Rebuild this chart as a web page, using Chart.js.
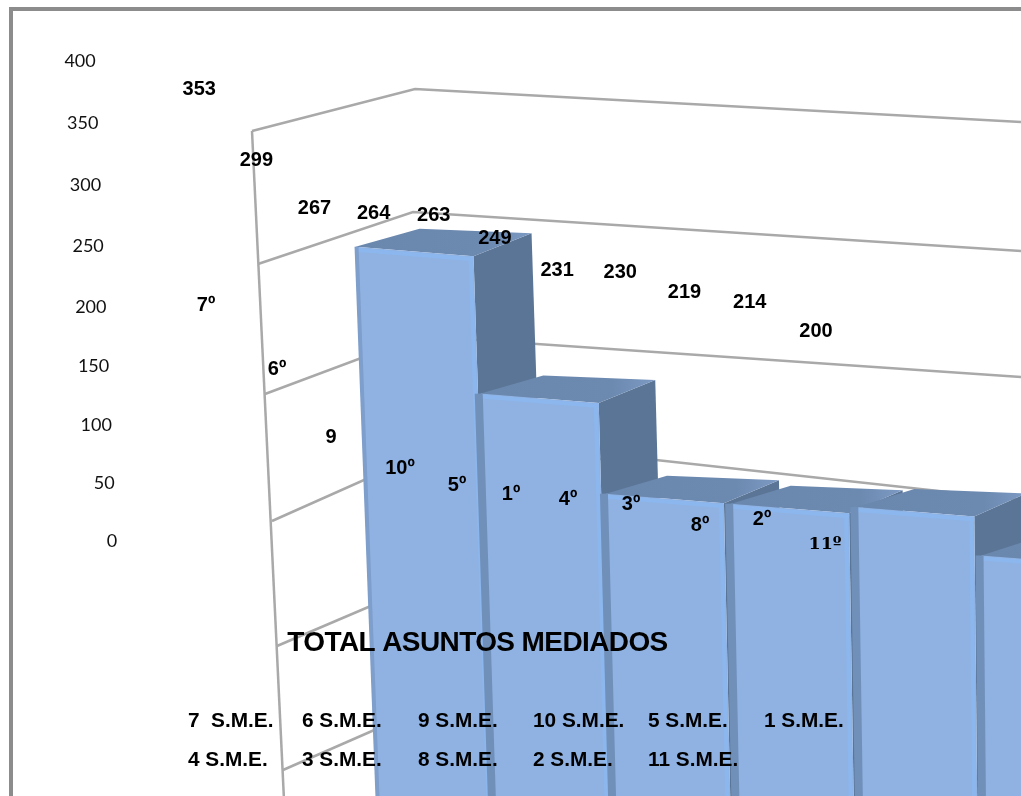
<!DOCTYPE html>
<html lang="es">
<head>
<meta charset="utf-8">
<title>Total asuntos mediados</title>
<script src="https://cdn.jsdelivr.net/npm/chart.js@4/dist/chart.umd.js"></script>
<style>
  html, body { margin: 0; padding: 0; background: #fff; overflow: hidden; }
  canvas { display: block; }
</style>
</head>
<body>
<canvas id="chart" width="1021" height="796"></canvas>
<script>
/* Total asuntos mediados por S.M.E. - barras 3D con perspectiva */
const categories = ["7  S.M.E.", "6 S.M.E.", "9 S.M.E.", "10 S.M.E.", "5 S.M.E.", "1 S.M.E.",
                    "4 S.M.E.", "3 S.M.E.", "8 S.M.E.", "2 S.M.E.", "11 S.M.E."];
const values = [353, 299, 267, 264, 263, 249, 231, 230, 219, 214, 200];
const ranks = ["7º", "6º", "9", "10º", "5º", "1º", "4º", "3º", "8º", "2º", "11º"];
const yTicks = [400, 350, 300, 250, 200, 150, 100, 50, 0];
const title = "TOTAL ASUNTOS MEDIADOS";

// --- layout of the free-floating text and of the wall, not data ---
const rankPos = [[206, 305], [277, 369], [331, 437], [400, 468], [457, 485], [511, 494],
                 [568, 499], [631, 504], [700, 525], [762, 519], [825, 544]];
const legendX = [188, 302, 418, 533, 648, 764];
const legendY = [721, 760];
const wallLines = [
    [[252, 131], [284, 800]],
    [[252, 131], [415, 89], [1021, 122]],
    [[258, 264], [413, 212], [1021, 251]],
    [[265, 394], [420, 336], [1021, 377]],
    [[272, 521], [420, 455], [656, 460], [1021, 500]],
    [[277, 646], [420, 585]],
    [[283, 770], [420, 710]]
];

// linear scale bent a little, the picture is in perspective
class BowedScale extends Chart.LinearScale {
    static id = "bowed";
    static defaults = Chart.LinearScale.defaults;
    getPixelForValue(v) {
        const o = this.options;
        const f = (v - o.range[0]) / (o.range[1] - o.range[0]);
        return o.pixels[0] + (o.pixels[1] - o.pixels[0]) * f + o.bow * f * (1 - f);
    }
}
Chart.register(BowedScale);

function slantAt(x) { return Math.max(0.008, 0.038 - (x - 357) * 4.5e-5); }

function poly(ctx, pts, fill) {
    ctx.beginPath();
    pts.forEach(function (p, i) { i ? ctx.lineTo(p[0], p[1]) : ctx.moveTo(p[0], p[1]); });
    ctx.closePath();
    ctx.fillStyle = fill;
    ctx.fill();
}

function drawBar(ctx, el, H, first) {
    const w = el.width, xL = el.x - w / 2, xR = el.x + w / 2, yT = el.y;
    const fl = [xL, yT], fr = [xR, yT + 0.08 * w];
    const dx = 58 - (xR - 474) * 0.012, dy = -23;
    const br = [fr[0] + dx, fr[1] + dy], bl = [fl[0] + dx + 6, fl[1] + dy + 5];
    const sL = slantAt(xL), sR = slantAt(xR);
    const flB = [xL + sL * (H - fl[1]), H], frB = [xR + sR * (H - fr[1]), H];
    const brB = [br[0] + sR * (H - br[1]), H];

    // side, top, front
    poly(ctx, [fr, br, brB, frB], "#5b7596");
    const topGrad = ctx.createLinearGradient(xL, 0, br[0], 0);
    topGrad.addColorStop(0, "#6a87ae");
    topGrad.addColorStop(0.75, "#6c89b0");
    topGrad.addColorStop(1, "#7c9ac3");
    poly(ctx, [fl, bl, br, fr], topGrad);
    poly(ctx, [fl, fr, frB, flB], "#8fb2e2");

    // bevels of the front face
    ctx.lineCap = "butt";
    ctx.lineWidth = 4;
    ctx.strokeStyle = "#8cb7ee";
    ctx.beginPath();
    ctx.moveTo(fl[0], fl[1] + 3);
    ctx.lineTo(fr[0], fr[1] + 3);
    ctx.moveTo(fr[0] - 3, fr[1]);
    ctx.lineTo(frB[0] - 3, H);
    ctx.stroke();

    // left bevel, on all but the first bar it also fills the gap to the neighbour
    const edge = first ? 1 : -2;
    ctx.lineWidth = first ? 4 : 8;
    ctx.strokeStyle = first ? "#7e9ecb" : "#7090ba";
    ctx.beginPath();
    ctx.moveTo(fl[0] + edge, fl[1]);
    ctx.lineTo(flB[0] + edge, H);
    ctx.stroke();
}

const sceneryPlugin = {
    id: "scenery",
    afterDatasetsDraw: function (chart) {
        const ctx = chart.ctx, H = chart.height + 10;
        ctx.save();

        // outer frame
        ctx.fillStyle = "#8c8c8c";
        ctx.fillRect(9, 7, 1012, 4);
        ctx.fillRect(9, 7, 4, 789);

        // wall lines
        ctx.strokeStyle = "#a9a9a9";
        ctx.lineWidth = 2.5;
        wallLines.forEach(function (line) {
            ctx.beginPath();
            line.forEach(function (p, i) { i ? ctx.lineTo(p[0], p[1]) : ctx.moveTo(p[0], p[1]); });
            ctx.stroke();
        });

        // bars, from the library's own elements
        chart.getDatasetMeta(0).data.forEach(function (el, i) { drawBar(ctx, el, H, i === 0); });

        // y axis labels walk to the right going down
        const yScale = chart.scales.yTick;
        ctx.font = "18px Lato";
        ctx.fillStyle = "#111";
        ctx.textAlign = "right";
        ctx.textBaseline = "middle";
        yTicks.forEach(function (t) {
            ctx.fillText(String(t), 117.3 - 21.6 * t / 400, yScale.getPixelForValue(t) + 1);
        });

        // value labels
        ctx.font = "bold 20px 'Liberation Sans'";
        ctx.fillStyle = "#000";
        ctx.textAlign = "center";
        chart.getDatasetMeta(1).data.forEach(function (pt, i) {
            ctx.fillText(String(values[i]), pt.x, pt.y + 2);
        });

        // rank labels
        ranks.forEach(function (r, i) {
            ctx.font = r === "11º" ? "bold 17.5px 'DejaVu Serif'" : "bold 20px 'Liberation Sans'";
            ctx.fillText(r, rankPos[i][0], rankPos[i][1]);
        });

        // title
        ctx.font = "bold 28px 'Liberation Sans'";
        ctx.letterSpacing = "-0.6px";
        ctx.fillText(title, 477.5, 643);
        ctx.letterSpacing = "0px";

        // legend text, no swatches in the original
        ctx.font = "bold 20.8px 'Liberation Sans'";
        ctx.textAlign = "left";
        categories.forEach(function (c, i) {
            const row = i < 6 ? 0 : 1;
            ctx.fillText(c, legendX[i - row * 6], legendY[row]);
        });

        ctx.restore();
    }
};

new Chart(document.getElementById("chart"), {
    data: {
        datasets: [
            {
                type: "bar",
                data: values.map(function (v, i) { return { x: i, y: v }; }),
                xAxisID: "xBar",
                yAxisID: "yBar",
                barThickness: 118,
                grouped: false,
                backgroundColor: "rgba(0,0,0,0)"
            },
            {
                type: "line",
                data: values.map(function (v, i) { return { x: i, y: v }; }),
                xAxisID: "xLabel",
                yAxisID: "yLabel",
                showLine: false,
                pointRadius: 0
            }
        ]
    },
    options: {
        responsive: false,
        animation: false,
        layout: { padding: 0 },
        plugins: { legend: { display: false }, tooltip: { enabled: false }, title: { display: false } },
        scales: {
            xBar: { type: "linear", display: false, offset: false, min: -3.311, max: 4.844, bounds: "data" },
            yBar: { type: "logarithmic", display: false, min: 189.7, max: 466.6, bounds: "data" },
            xLabel: { type: "bowed", axis: "x", display: false, offset: false, min: 0, max: 10, range: [0, 10], pixels: [199.3, 816], bow: -51 },
            yLabel: { type: "logarithmic", display: false, min: 66.9, max: 433.7, bounds: "data" },
            yTick: { type: "bowed", axis: "y", display: false, min: 0, max: 400, range: [400, 0], pixels: [60, 540], bow: 24 }
        }
    },
    plugins: [sceneryPlugin]
});
</script>
</body>
</html>
